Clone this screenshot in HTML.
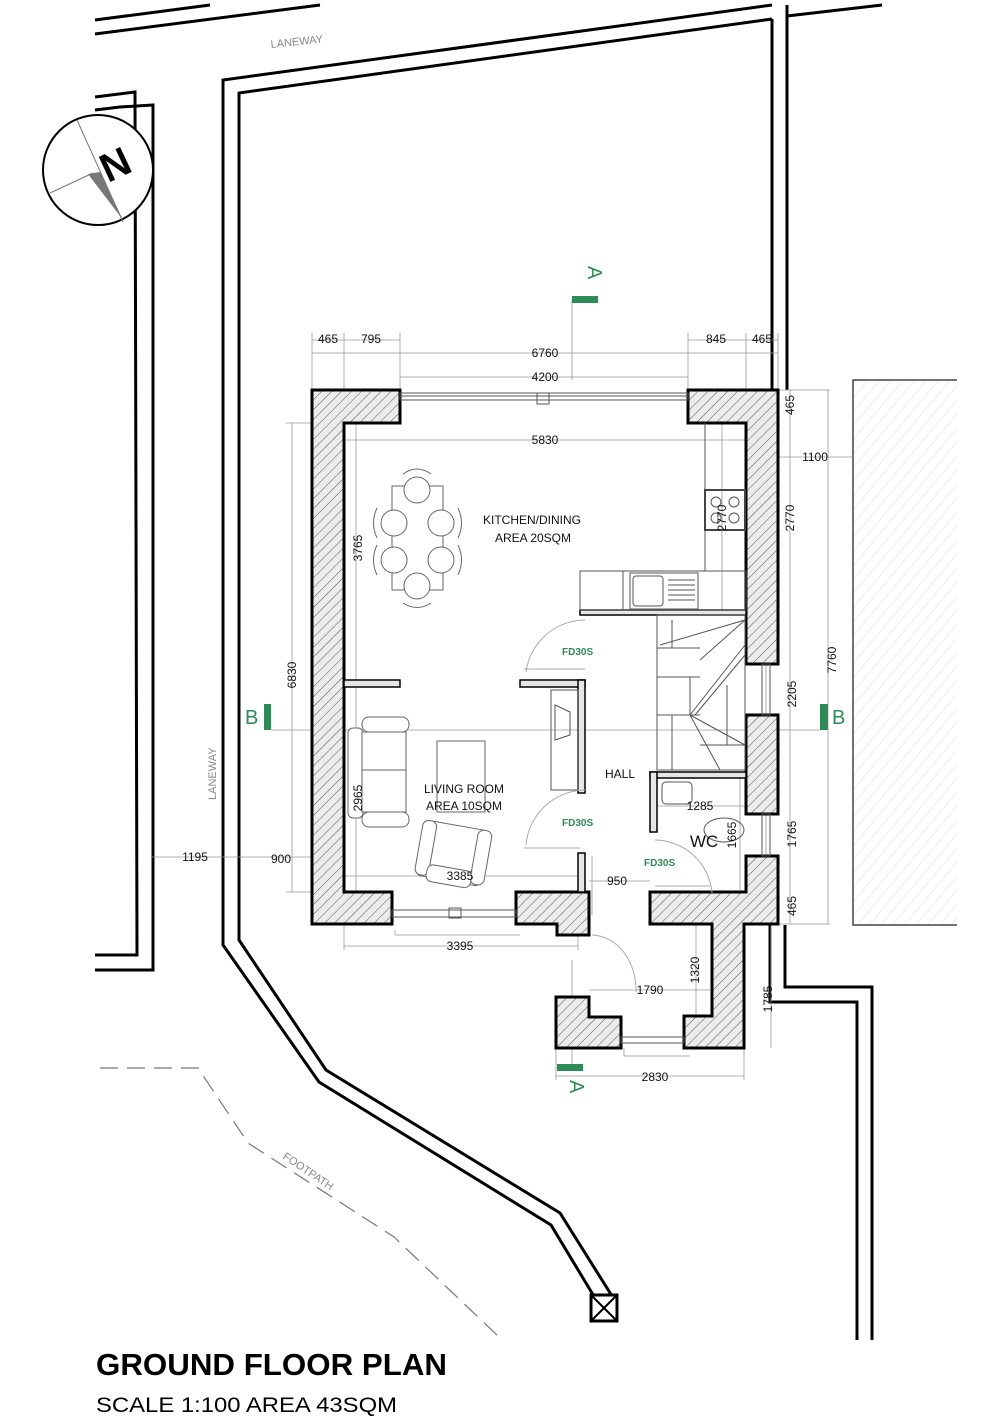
<!DOCTYPE html>
<html><head><meta charset="utf-8"><style>
html,body{margin:0;padding:0;background:#fff;}
svg{display:block;}
text{font-family:"Liberation Sans",sans-serif;}
</style></head><body>
<svg width="1000" height="1428" viewBox="0 0 1000 1428" xmlns="http://www.w3.org/2000/svg">
<defs>
<pattern id="hatch" width="7" height="7" patternUnits="userSpaceOnUse" patternTransform="rotate(45)">
<rect width="7" height="7" fill="#ececec"/>
<line x1="0" y1="0" x2="0" y2="7" stroke="#555" stroke-width="1"/>
</pattern>
<pattern id="nb" width="9" height="9" patternUnits="userSpaceOnUse" patternTransform="rotate(40)">
<line x1="0" y1="0" x2="0" y2="9" stroke="#ddd" stroke-width="1"/>
</pattern>
</defs>

<!-- site boundaries -->
<g fill="none" stroke="#000" stroke-width="3">
<polyline points="95,20 210,5"/>
<polyline points="95,34 320,5"/>
<polyline points="772,5 223,80 223,945 319,1082 551,1225 595,1298"/>
<polyline points="772,19 239,93 239,940 326,1070 560,1213 612,1296"/>
<polyline points="772,19 772,390"/>
<polyline points="787,5 787,390"/>
<polyline points="787,16 882,5"/>
<polyline points="95,97 135,92 137,955 95,955"/>
<polyline points="95,110 120,107 153,105 153,970 95,970"/>
<polyline points="770,925 770,1002 857,1002 857,1340"/>
<polyline points="785,925 785,987 872,987 872,1340"/>
</g>
<rect x="591" y="1295" width="26" height="26" fill="#fff" stroke="#000" stroke-width="3"/>
<line x1="591" y1="1295" x2="617" y2="1321" stroke="#000" stroke-width="2"/>
<line x1="617" y1="1295" x2="591" y2="1321" stroke="#000" stroke-width="2"/>

<!-- neighbour building -->
<rect x="853" y="380" width="104" height="545" fill="url(#nb)"/>
<polyline points="957,380 853,380 853,925 957,925" fill="none" stroke="#444" stroke-width="1.5"/>

<!-- footpath -->
<polyline points="100,1068 198,1068 248,1143 394,1237 498,1336" fill="none" stroke="#777" stroke-width="1.2" stroke-dasharray="18,9"/>
<text x="0" y="0" font-size="11" fill="#888" transform="translate(282,1158) rotate(34)">FOOTPATH</text>
<text x="0" y="0" font-size="11" fill="#888" transform="translate(271,48) rotate(-6)">LANEWAY</text>
<text x="0" y="0" font-size="11" fill="#888" transform="translate(216,800) rotate(-90)">LANEWAY</text>

<!-- north arrow -->
<circle cx="98" cy="170" r="55" fill="#fff" stroke="#000" stroke-width="2"/>
<line x1="77" y1="120" x2="123" y2="222" stroke="#777" stroke-width="1"/>
<line x1="50" y1="193" x2="93" y2="173" stroke="#777" stroke-width="1"/>
<polygon points="88,174 100,172 123,220" fill="#777"/>
<text x="0" y="0" font-size="40" font-weight="bold" transform="translate(108,183) rotate(-25)">N</text>

<!-- dimension lines -->
<g stroke="#999" stroke-width="0.8" fill="none">
<line x1="312" y1="340" x2="400" y2="340"/><line x1="688" y1="340" x2="778" y2="340"/>
<line x1="312" y1="353" x2="778" y2="353"/><line x1="400" y1="377" x2="688" y2="377"/>
<line x1="344" y1="440" x2="746" y2="440"/>
<line x1="312" y1="333" x2="312" y2="390"/><line x1="344" y1="333" x2="344" y2="390"/><line x1="400" y1="333" x2="400" y2="390"/>
<line x1="688" y1="333" x2="688" y2="390"/><line x1="746" y1="333" x2="746" y2="390"/><line x1="778" y1="333" x2="778" y2="390"/>
<line x1="572" y1="300" x2="572" y2="380"/>
<line x1="292" y1="423" x2="292" y2="892"/><line x1="286" y1="423" x2="344" y2="423"/><line x1="286" y1="892" x2="344" y2="892"/>
<line x1="356" y1="423" x2="356" y2="683"/><line x1="356" y1="683" x2="356" y2="892"/>
<line x1="152" y1="857" x2="312" y2="857"/>
<line x1="344" y1="876" x2="578" y2="876"/>
<line x1="589" y1="881" x2="650" y2="881"/>
<line x1="344" y1="946" x2="578" y2="946"/><line x1="344" y1="924" x2="344" y2="950"/><line x1="578" y1="935" x2="578" y2="950"/>
<line x1="395" y1="930" x2="395" y2="935"/><line x1="395" y1="935" x2="520" y2="935"/>
<line x1="778" y1="390" x2="830" y2="390"/><line x1="778" y1="924" x2="830" y2="924"/>
<line x1="828" y1="390" x2="828" y2="924"/>
<line x1="790" y1="390" x2="790" y2="924"/>
<line x1="778" y1="457" x2="853" y2="457"/>
<line x1="722" y1="423" x2="722" y2="613"/>
<line x1="766" y1="664" x2="766" y2="715"/><line x1="766" y1="814" x2="766" y2="856"/>
<line x1="771" y1="924" x2="771" y2="1048"/>
<line x1="556" y1="1076" x2="744" y2="1076"/><line x1="556" y1="1048" x2="556" y2="1080"/><line x1="744" y1="1048" x2="744" y2="1080"/>
<line x1="589" y1="990" x2="710" y2="990"/>
<line x1="696" y1="924" x2="696" y2="1016"/>
<line x1="657" y1="806" x2="746" y2="806"/>
<line x1="740" y1="778" x2="740" y2="890"/>
<line x1="271" y1="730" x2="820" y2="730"/>
<line x1="624" y1="1048" x2="624" y2="1056"/><line x1="624" y1="1056" x2="690" y2="1056"/>
<line x1="572" y1="960" x2="572" y2="1065"/>
</g>

<!-- walls -->
<g fill="url(#hatch)" stroke="#000" stroke-width="3" stroke-linejoin="miter">
<polygon points="312,390 400,390 400,423 344,423 344,892 392,892 392,924 312,924"/>
<polygon points="516,892 589,892 589,935 557,935 557,924 516,924"/>
<polygon points="688,390 778,390 778,664 746,664 746,423 688,423"/>
<polygon points="746,715 778,715 778,814 746,814"/>
<polygon points="650,892 746,892 746,856 778,856 778,924 744,924 744,1048 684,1048 684,1016 712,1016 712,924 650,924"/>
<polygon points="556,997 589,997 589,1017 621,1017 621,1048 556,1048"/>
</g>

<!-- windows -->
<g fill="none" stroke="#555" stroke-width="1">
<rect x="400" y="393" width="288" height="7"/>
<line x1="400" y1="396" x2="688" y2="396"/>
<rect x="537" y="393" width="12" height="11"/>
<rect x="392" y="910" width="124" height="7"/><rect x="449" y="908" width="12" height="10"/>
<rect x="762" y="664" width="8" height="51"/>
<rect x="762" y="814" width="8" height="42"/>
<rect x="621" y="1037" width="63" height="6"/>
</g>

<!-- partitions -->
<g fill="#e6e6e6" stroke="#000" stroke-width="1.5">
<rect x="344" y="680" width="56" height="7"/>
<rect x="520" y="680" width="65" height="7"/>
<rect x="578" y="680" width="7" height="113"/>
<rect x="578" y="853" width="7" height="39"/>
<rect x="580" y="610" width="166" height="5"/>
<rect x="650" y="772" width="96" height="6"/>
<rect x="650" y="772" width="7" height="60"/>
</g>

<!-- kitchen -->
<g fill="none" stroke="#555" stroke-width="1">
<rect x="580" y="571" width="166" height="39"/>
<line x1="623" y1="571" x2="623" y2="610"/>
<rect x="630" y="573" width="68" height="36"/>
<rect x="633" y="576" width="30" height="30" rx="3"/>
<line x1="668" y1="580" x2="695" y2="580"/><line x1="668" y1="585" x2="695" y2="585"/><line x1="668" y1="590" x2="695" y2="590"/><line x1="668" y1="595" x2="695" y2="595"/><line x1="668" y1="600" x2="695" y2="600"/>
<line x1="705" y1="423" x2="705" y2="571"/>
<rect x="705" y="490" width="40" height="40" stroke="#444" stroke-width="2"/>
<circle cx="716" cy="502" r="5"/><circle cx="734" cy="502" r="5"/><circle cx="716" cy="518" r="5"/><circle cx="734" cy="518" r="5"/>
<!-- stairs -->
<rect x="657" y="615" width="88" height="155"/>
<line x1="657" y1="648" x2="700" y2="648"/>
<line x1="657" y1="677" x2="700" y2="677"/>
<line x1="690" y1="677" x2="690" y2="715"/>
<line x1="657" y1="715" x2="700" y2="715"/>
<line x1="690" y1="715" x2="745" y2="645"/><line x1="695" y1="715" x2="745" y2="655"/>
<line x1="660" y1="645" x2="745" y2="620"/><line x1="700" y1="660" x2="745" y2="620"/>
<line x1="690" y1="715" x2="745" y2="745"/><line x1="690" y1="715" x2="720" y2="770"/>
<line x1="727" y1="685" x2="727" y2="745"/><line x1="700" y1="745" x2="745" y2="745"/>
<line x1="672" y1="620" x2="672" y2="648"/><line x1="672" y1="715" x2="672" y2="770"/>
<!-- fireplace/tv unit -->
<rect x="551" y="690" width="27" height="100"/>
<polygon points="555,705 570,712 570,735 555,740"/>
<!-- WC -->
<rect x="662" y="782" width="30" height="22" rx="4"/>
<ellipse cx="724" cy="830" rx="20" ry="12"/>
</g>

<!-- doors -->
<g fill="none" stroke="#aaa" stroke-width="1">
<path d="M526,672 A60,60 0 0 1 585,620"/><line x1="524" y1="669" x2="585" y2="669"/>
<path d="M526,845 A60,60 0 0 1 585,790"/><line x1="524" y1="848" x2="580" y2="848"/>
<path d="M655,840 A58,58 0 0 1 712,893"/><line x1="655" y1="886" x2="710" y2="886"/>
<path d="M592,935 A45,55 0 0 1 636,992"/><line x1="592" y1="856" x2="592" y2="915"/>
</g>

<!-- furniture -->
<g fill="#fff" stroke="#666" stroke-width="1">
<rect x="392" y="486" width="51" height="104"/>
<circle cx="417" cy="490" r="13"/><circle cx="417" cy="586" r="13"/>
<circle cx="394" cy="523" r="13"/><circle cx="394" cy="560" r="13"/>
<circle cx="441" cy="523" r="13"/><circle cx="441" cy="560" r="13"/>
<path d="M403,474 Q417,464 431,474" fill="none"/><path d="M403,603 Q417,612 431,603" fill="none"/>
<path d="M377,508 Q370,523 377,538" fill="none"/><path d="M377,545 Q370,560 377,575" fill="none"/>
<path d="M458,508 Q465,523 458,538" fill="none"/><path d="M458,545 Q465,560 458,575" fill="none"/>
<rect x="348" y="728" width="15" height="90" rx="5"/>
<rect x="362" y="717" width="47" height="15" rx="7"/>
<rect x="362" y="812" width="47" height="15" rx="7"/>
<rect x="362" y="732" width="44" height="80"/>
<line x1="362" y1="770" x2="406" y2="770"/>
<rect x="437" y="741" width="48" height="71"/>
<g transform="rotate(10 452 855)">
<rect x="420" y="825" width="65" height="56" rx="5"/>
<rect x="418" y="825" width="14" height="55" rx="6"/>
<rect x="474" y="825" width="14" height="55" rx="6"/>
<rect x="430" y="868" width="45" height="17" rx="6"/>
</g>
</g>

<!-- section markers -->
<g fill="#2e8b57">
<rect x="572" y="296" width="26" height="7"/>
<rect x="557" y="1064" width="26" height="7"/>
<rect x="264" y="704" width="7" height="26"/>
<rect x="820" y="704" width="8" height="26"/>
</g>
<g fill="#2e8b57" font-size="20">
<text x="0" y="0" transform="translate(588,266) rotate(90)">A</text>
<text x="0" y="0" transform="translate(570,1080) rotate(90)">A</text>
<text x="245" y="724">B</text>
<text x="832" y="724">B</text>
</g>
<g fill="#2e8b57" font-size="10" font-weight="bold">
<text x="562" y="655">FD30S</text>
<text x="562" y="826">FD30S</text>
<text x="644" y="866">FD30S</text>
</g>

<!-- labels -->
<g fill="#111" font-size="12" text-anchor="middle">
<text x="532" y="524">KITCHEN/DINING</text>
<text x="533" y="542">AREA 20SQM</text>
<text x="464" y="793">LIVING ROOM</text>
<text x="464" y="810">AREA 10SQM</text>
<text x="620" y="778">HALL</text>
<text x="704" y="847" font-size="17">WC</text>
</g>
<g fill="#111" font-size="12" text-anchor="middle">
<text x="328" y="343">465</text><text x="371" y="343">795</text>
<text x="716" y="343">845</text><text x="762" y="343">465</text>
<text x="545" y="357">6760</text><text x="545" y="381">4200</text>
<text x="545" y="444">5830</text>
<text x="460" y="880">3385</text><text x="460" y="950">3395</text>
<text x="281" y="863">900</text><text x="195" y="861">1195</text>
<text x="617" y="885">950</text><text x="700" y="810">1285</text>
<text x="650" y="994">1790</text><text x="655" y="1081">2830</text>
<text x="815" y="461">1100</text>
<text x="0" y="0" transform="translate(362,548) rotate(-90)">3765</text>
<text x="0" y="0" transform="translate(296,675) rotate(-90)">6830</text>
<text x="0" y="0" transform="translate(362,798) rotate(-90)">2965</text>
<text x="0" y="0" transform="translate(726,518) rotate(-90)">2770</text>
<text x="0" y="0" transform="translate(794,518) rotate(-90)">2770</text>
<text x="0" y="0" transform="translate(794,405) rotate(-90)">465</text>
<text x="0" y="0" transform="translate(836,660) rotate(-90)">7760</text>
<text x="0" y="0" transform="translate(796,694) rotate(-90)">2205</text>
<text x="0" y="0" transform="translate(796,834) rotate(-90)">1765</text>
<text x="0" y="0" transform="translate(796,906) rotate(-90)">465</text>
<text x="0" y="0" transform="translate(772,999) rotate(-90)">1785</text>
<text x="0" y="0" transform="translate(736,835) rotate(-90)">1665</text>
<text x="0" y="0" transform="translate(699,970) rotate(-90)">1320</text>
</g>

<!-- title -->
<text x="96" y="1375" font-size="31" font-weight="bold" textLength="351" lengthAdjust="spacingAndGlyphs">GROUND FLOOR PLAN</text>
<text x="96" y="1412" font-size="21" textLength="301" lengthAdjust="spacingAndGlyphs">SCALE 1:100  AREA 43SQM</text>
</svg>
</body></html>
